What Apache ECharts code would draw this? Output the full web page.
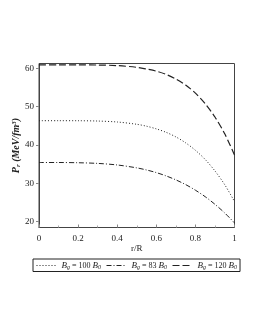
<!DOCTYPE html>
<html>
<head>
<meta charset="utf-8">
<script src="https://cdn.jsdelivr.net/npm/echarts@6/dist/echarts.min.js"></script>
<style>html,body{margin:0;padding:0;background:#fff;}#c{width:255px;height:330px;}</style>
</head>
<body>
<div id="c"></div>
<script>
const rValues = [0, 0.1, 0.2, 0.3, 0.4, 0.5, 0.55, 0.6, 0.65, 0.7, 0.75, 0.8, 0.85, 0.9, 0.95, 1];
const p100 = [46.34, 46.34, 46.33, 46.25, 46.0, 45.4, 44.9, 44.2, 43.3, 42.1, 40.55, 38.6, 36.2, 33.2, 29.6, 25.2];
const p83 = [35.4, 35.4, 35.34, 35.17, 34.76, 34.0, 33.45, 32.76, 31.9, 30.86, 29.63, 28.16, 26.46, 24.47, 22.2, 19.6];
const p120 = [60.95, 60.95, 60.94, 60.9, 60.75, 60.3, 59.85, 59.3, 58.45, 57.25, 55.65, 53.55, 50.8, 47.3, 42.9, 37.35];
const xTicks = [0, 0.2, 0.4, 0.6, 0.8, 1];
const yTicks = [20, 30, 40, 50, 60];
const seriesNames = ['B100', 'B83', 'B120'];
const seriesLabels = ['100', '83', '120'];

const font = 'Liberation Serif';
const pair = arr => rValues.map((r, i) => [r, arr[i]]);
const chart = echarts.init(document.getElementById('c'), null, {renderer: 'canvas'});
const lineCol = '#222';
const mk = (name, data, type, w) => ({
  name, type: 'line', data: pair(data), symbol: 'none', smooth: 0.3,
  lineStyle: {color: lineCol, width: w, type: type}, itemStyle: {color: lineCol}
});
chart.setOption({
  animation: false,
  grid: {left: 39, right: 20.5, top: 63.5, bottom: 102.5, show: true, borderColor: '#444', borderWidth: 1, backgroundColor: 'transparent'},
  xAxis: {
    type: 'value', min: 0, max: 1,
    name: 'r/R', nameLocation: 'middle', nameGap: 16,
    nameTextStyle: {fontFamily: font, fontSize: 9, color: '#222'},
    axisLine: {lineStyle: {color: '#444'}},
    axisTick: {inside: true, length: 3, customValues: xTicks, lineStyle: {color: '#888'}},
    minorTick: {show: true, splitNumber: 2, length: 2, lineStyle: {color: '#aaa'}},
    axisLabel: {customValues: xTicks, fontFamily: font, fontSize: 9, color: '#222', margin: 7,
      formatter: v => String(v)},
    splitLine: {show: false}
  },
  yAxis: {
    type: 'value', min: 18.4, max: 61.3,
    name: '{b|P}{s|r}{b| (MeV/fm}{sup|3}{b|)}', nameLocation: 'middle', nameGap: 17, nameRotate: 90,
    nameMoveOverlap: false,
    nameTextStyle: {fontFamily: font, fontSize: 10, color: '#222',
      rich: {
        b: {fontFamily: font, fontSize: 10, fontWeight: 'bold', fontStyle: 'italic', color: '#222'},
        s: {fontFamily: font, fontSize: 7, fontWeight: 'bold', fontStyle: 'italic', color: '#222', verticalAlign: 'bottom', padding: [4, 0, 0, 0]},
        sup: {fontFamily: font, fontSize: 7, fontWeight: 'bold', fontStyle: 'italic', color: '#222', verticalAlign: 'top', padding: [0, 0, 4, 0]}
      }},
    axisLine: {show: true, lineStyle: {color: '#444'}},
    axisTick: {show: true, length: 3, customValues: yTicks, lineStyle: {color: '#888'}},
    axisLabel: {customValues: yTicks, fontFamily: font, fontSize: 9, color: '#222', margin: 5},
    splitLine: {show: false}
  },
  legend: {
    left: 33, top: 259,
    borderColor: '#222', borderWidth: 1, padding: [2, 3, 1, 3], itemGap: 5,
    itemWidth: 20, itemHeight: 8,
    itemStyle: {opacity: 0},
    lineStyle: {width: 1},
    data: seriesNames,
    formatter: name => '{i|B}{s|g}{t| = ' + seriesLabels[seriesNames.indexOf(name)] + ' }{i|B}{s|0}',
    textStyle: {fontFamily: font, fontSize: 9, color: '#222', padding: [0, 0, 0, 0],
      rich: {
        i: {fontFamily: font, fontSize: 9, fontStyle: 'italic', color: '#222'},
        t: {fontFamily: font, fontSize: 8, color: '#222'},
        s: {fontFamily: font, fontSize: 6, fontStyle: 'italic', color: '#222', verticalAlign: 'bottom', padding: [4, 0, 0, 0]}
      }}
  },
  series: [
    mk('B100', p100, [1, 2], 1),
    mk('B83', p83, [5, 2, 1, 2], 1),
    mk('B120', p120, [7, 3], 1.2)
  ]
});
</script>
</body>
</html>
